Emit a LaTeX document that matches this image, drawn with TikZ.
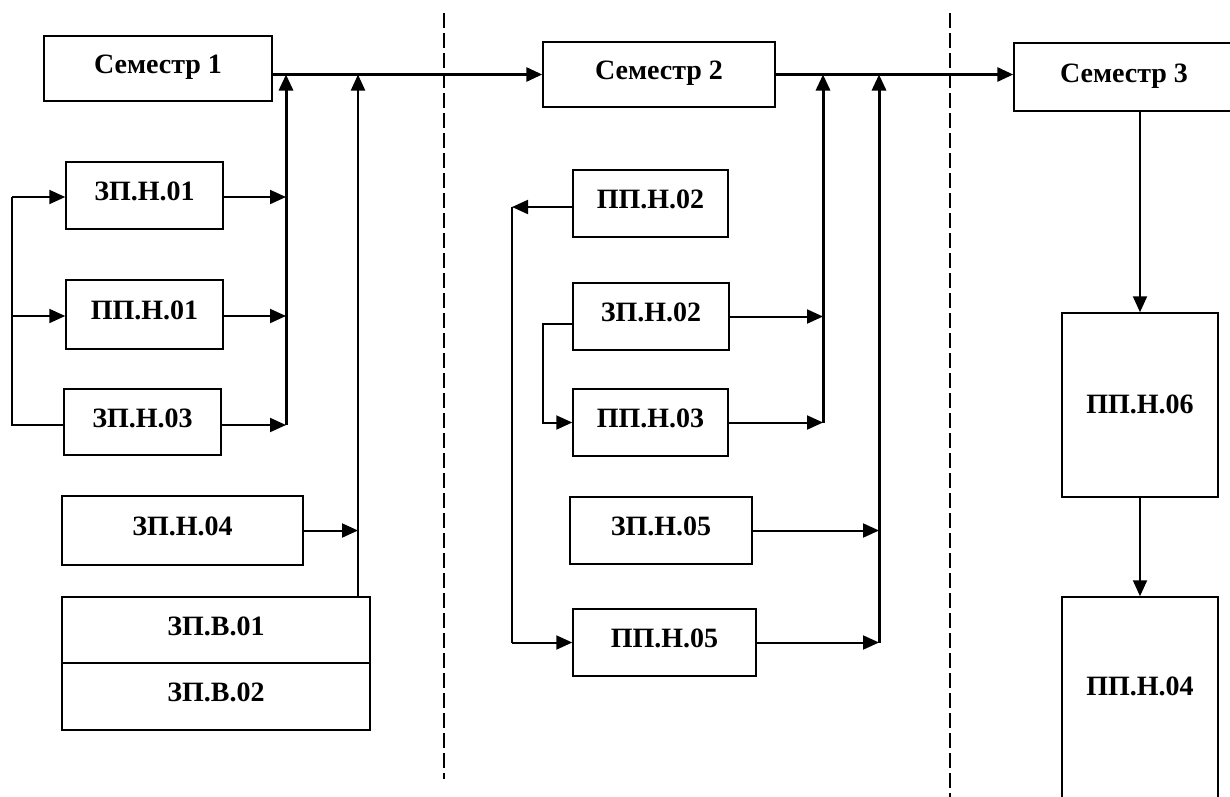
\documentclass[tikz,border=0pt]{standalone}
\usepackage{fontspec}
\setmainfont{Liberation Serif}
\usetikzlibrary{arrows.meta}
\begin{document}
\begin{tikzpicture}[x=1pt,y=-1pt,
  box/.style={draw, line width=1.5pt, inner sep=0pt, font=\fontsize{28}{30}\selectfont\bfseries, text height=19.3pt, text depth=9pt},
  tip/.style={-{Triangle[length=16pt 0,width=14pt 0]}},
  conn/.style={line width=2pt},
  arr/.style={line width=2pt, tip},
  busline/.style={line width=3pt},
  sep/.style={line width=2pt, dash pattern=on 15pt off 5pt}]
\useasboundingbox (0,0) rectangle (1230,796);
% semesters
\node[box, minimum width=228pt, minimum height=65pt] (sem1) at (158,68.5) {Семестр 1};
\node[box, minimum width=232pt, minimum height=65pt] (sem2) at (659,74.5) {Семестр 2};
\node[box, minimum width=220pt, minimum height=68pt] (sem3) at (1124,77) {Семестр 3};
% column 1
\node[box, minimum width=157pt, minimum height=67pt] (z01) at (144.5,195.5) {ЗП.Н.01};
\node[box, minimum width=157pt, minimum height=69pt] (p01) at (144.5,314.5) {ПП.Н.01};
\node[box, minimum width=157pt, minimum height=66pt] (z03) at (142.5,422) {ЗП.Н.03};
\node[box, minimum width=241pt, minimum height=69pt] (z04) at (182.5,530.5) {ЗП.Н.04};
\node[box, minimum width=308pt, minimum height=66pt] (zv01) at (216,630) {ЗП.В.01};
\node[box, minimum width=308pt, minimum height=67pt] (zv02) at (216,696.5) {ЗП.В.02};
% column 2
\node[box, minimum width=155pt, minimum height=67pt] (p02) at (650.5,203.5) {ПП.Н.02};
\node[box, minimum width=156pt, minimum height=67pt] (z02) at (651,316.5) {ЗП.Н.02};
\node[box, minimum width=155pt, minimum height=67pt] (p03) at (650.5,422.5) {ПП.Н.03};
\node[box, minimum width=182pt, minimum height=67pt] (z05) at (661,530.5) {ЗП.Н.05};
\node[box, minimum width=183pt, minimum height=67pt] (p05) at (664.5,642.5) {ПП.Н.05};
% column 3
\node[box, minimum width=156pt, minimum height=184pt, text depth=2pt] (p06) at (1140,405) {ПП.Н.06};
\node[box, minimum width=156pt, minimum height=260pt, text depth=82pt] (p04) at (1140,727) {ПП.Н.04};
% separators
\coordinate (s1a) at (444,13); \coordinate (s1b) at (444,779);
\coordinate (s2a) at (950,13); \coordinate (s2b) at (950,800);
\draw[sep] (s1a) -- (s1b);
\draw[sep] (s2a) -- (s2b);
% main line
\draw[busline, tip] (sem1.east |- sem2.west) -- (sem2.west);
\draw[busline, tip] (sem2.east) -- (sem2.east -| sem3.west);
% left bus column 1
\coordinate (lb1) at (12,197);
\coordinate (lb2) at (12,316);
\coordinate (lb3) at (12,425);
\draw[conn] (z03.west |- lb3) -- (lb3) -- (lb1);
\draw[arr] (lb1) -- (lb1 -| z01.west);
\draw[arr] (lb2) -- (lb2 -| p01.west);
% right bus column 1
\coordinate (rb1) at (286,74.5);
\coordinate (rb1b) at (286,425);
\draw[busline, tip] (rb1b) -- (rb1);
\draw[arr] (z01.east |- lb1) -- (lb1 -| rb1);
\draw[arr] (p01.east |- lb2) -- (lb2 -| rb1);
\draw[arr] (z03.east |- lb3) -- (lb3 -| rb1);
% second bus column 1
\coordinate (v2) at (358,74.5);
\draw[conn, tip] (v2 |- zv01.north) -- (v2);
\draw[arr] (z04.east) -- (z04.east -| v2);
% column 2 left links
\coordinate (mb) at (512,642.5);
\draw[arr] (p02.west |- 0,207) -- (mb |- 0,207);
\draw[conn] (mb |- 0,207) -- (mb);
\draw[arr] (mb) -- (p05.west);
\coordinate (ml) at (543,324);
\draw[arr] (z02.west |- ml) -- (ml) -- (ml |- p03.west) -- (p03.west);
% column 2 buses
\coordinate (b3) at (823,74.5);
\coordinate (b4) at (879,74.5);
\draw[busline, tip] (b3 |- p03.east) -- (b3);
\draw[busline, tip] (b4 |- p05.east) -- (b4);
\draw[arr] (z02.east) -- (z02.east -| b3);
\draw[arr] (p03.east) -- (p03.east -| b3);
\draw[arr] (z05.east) -- (z05.east -| b4);
\draw[arr] (p05.east) -- (p05.east -| b4);
% column 3
\draw[arr] (sem3.south -| p06.north) -- (p06.north);
\draw[arr] (p06.south) -- (p04.north);
\end{tikzpicture}
\end{document}
